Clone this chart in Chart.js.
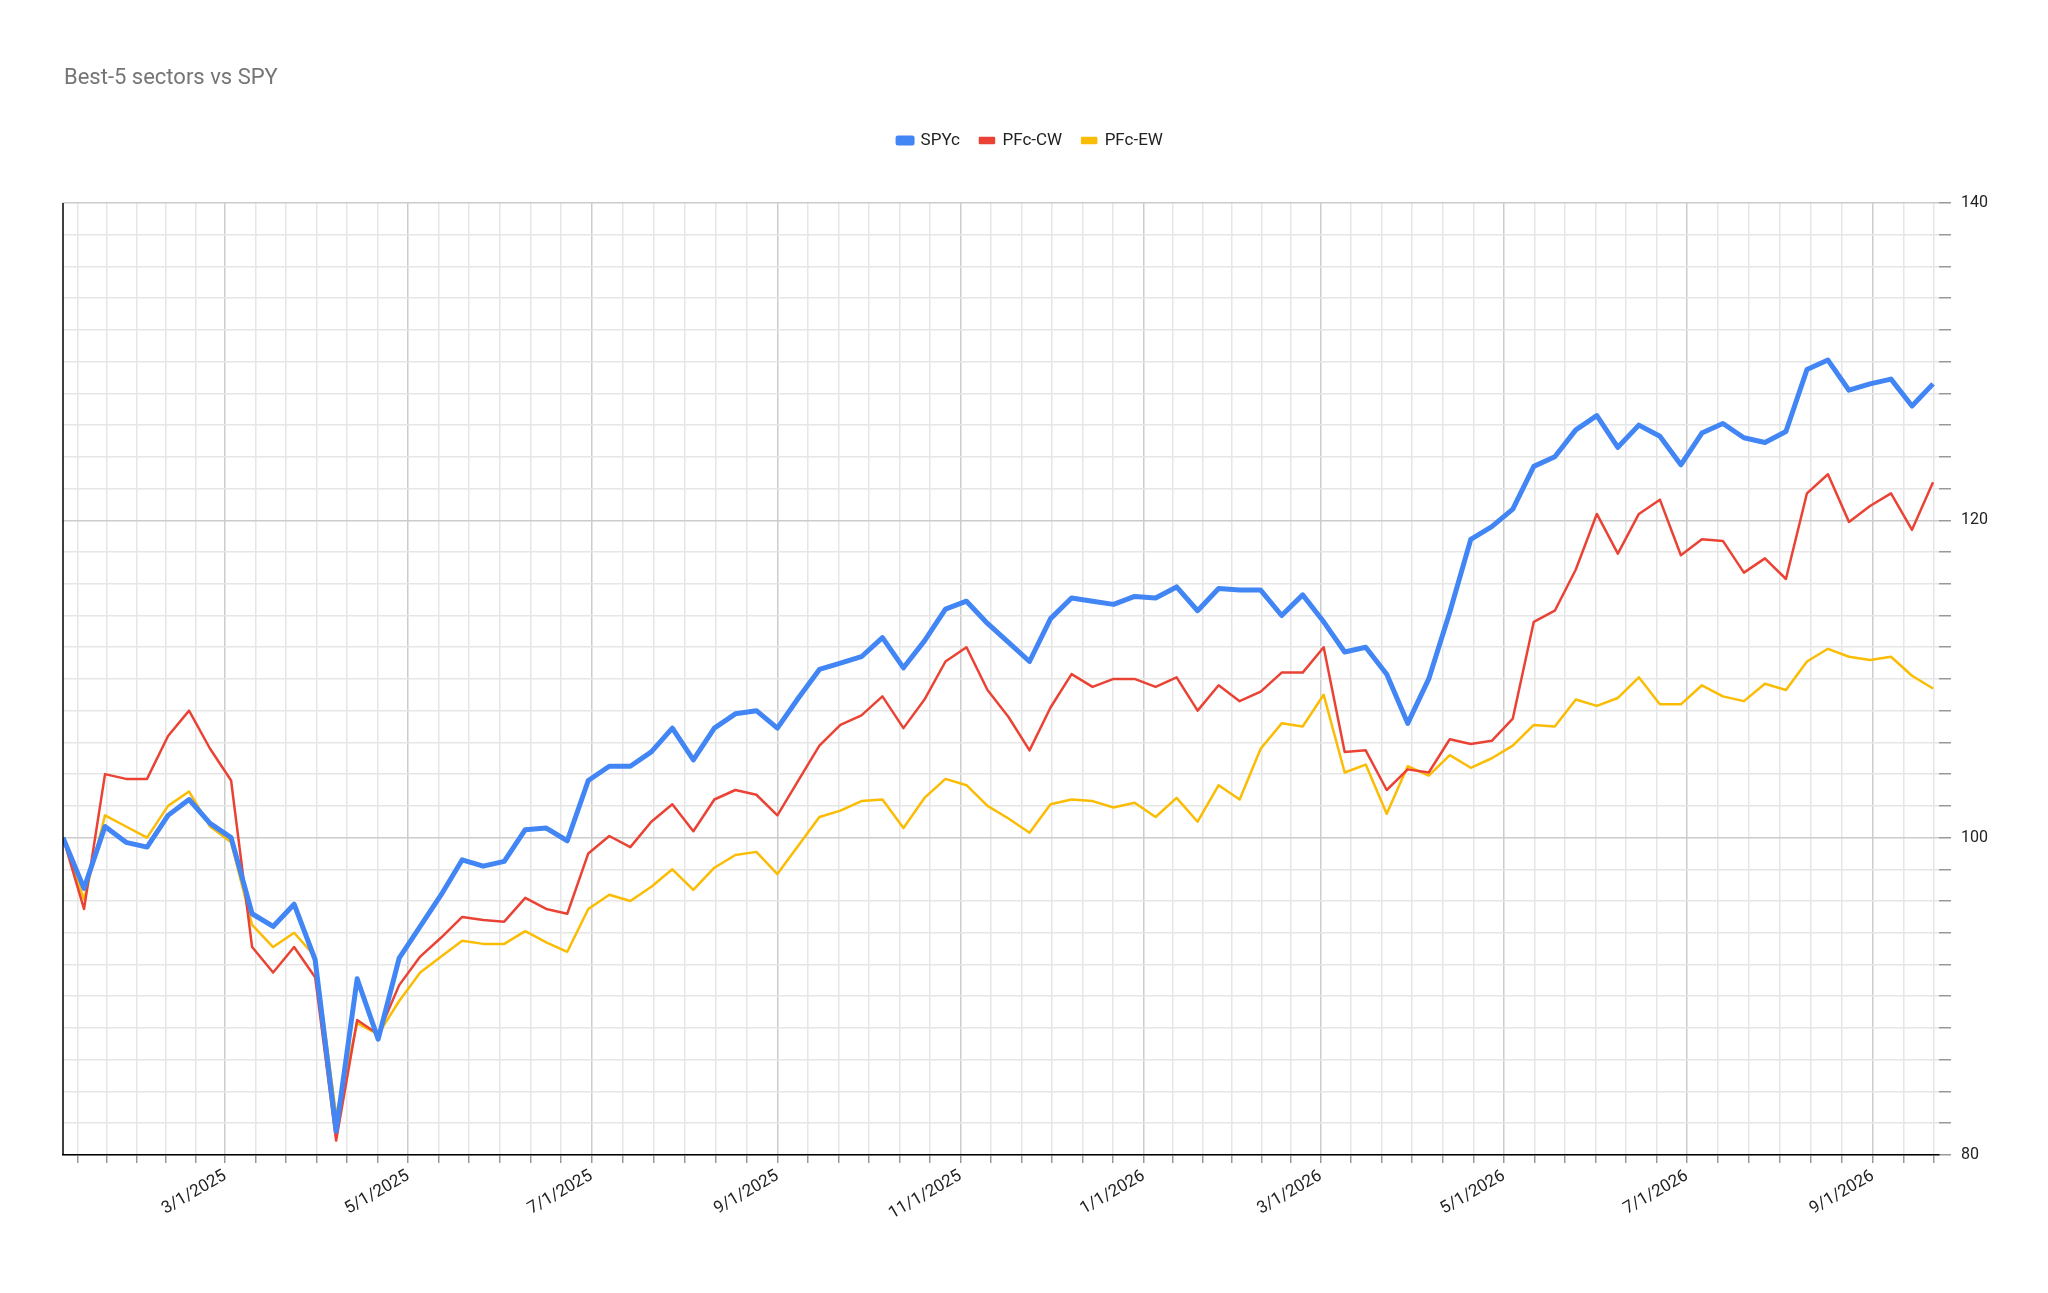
<!DOCTYPE html>
<html>
<head>
<meta charset="utf-8">
<script src="https://cdn.jsdelivr.net/npm/chart.js@4/dist/chart.umd.min.js"></script>
<style>
  html, body { margin: 0; padding: 0; background: #fff; }
  #wrap { width: 2048px; height: 1293px; position: relative; }
</style>
</head>
<body>
<div id="wrap"><canvas id="chart"></canvas></div>
<script>
// Weekly closes, normalised to 100 on the first week
const startDate = '2025-01-06';
const spyc = [100, 96.8, 100.7, 99.7, 99.4, 101.4, 102.4, 100.9, 100, 95.2, 94.4, 95.8, 92.3, 81.5, 91.1, 87.3, 92.4, 94.4, 96.4, 98.6, 98.2, 98.5, 100.5, 100.6,
  99.8, 103.6, 104.5, 104.5, 105.4, 106.9, 104.9, 106.9, 107.8, 108, 106.9, 108.8, 110.6, 111, 111.4, 112.6, 110.7, 112.4, 114.4, 114.9,
  113.5, 112.3, 111.1, 113.8, 115.1, 114.9, 114.7, 115.2, 115.1, 115.8, 114.3, 115.7, 115.6, 115.6, 114, 115.3, 113.6, 111.7, 112, 110.3, 107.2, 110, 114.2,
  118.8, 119.6, 120.7, 123.4, 124, 125.7, 126.6, 124.6, 126, 125.3, 123.5, 125.5, 126.1, 125.2, 124.9, 125.6, 129.5, 130.1, 128.2, 128.6, 128.9, 127.2, 128.6];
const pfcCW = [100, 95.5, 104, 103.7, 103.7, 106.4, 108, 105.6, 103.6, 93.1, 91.5, 93.1, 91.2, 80.9, 88.5, 87.6, 90.7, 92.5, 93.7, 95, 94.8, 94.7, 96.2, 95.5,
  95.2, 99, 100.1, 99.4, 101, 102.1, 100.4, 102.4, 103, 102.7, 101.4, 103.6, 105.8, 107.1, 107.7, 108.9, 106.9, 108.7, 111.1, 112,
  109.3, 107.6, 105.5, 108.2, 110.3, 109.5, 110, 110, 109.5, 110.1, 108, 109.6, 108.6, 109.2, 110.4, 110.4, 112, 105.4, 105.5, 103, 104.3, 104.1, 106.2,
  105.9, 106.1, 107.5, 113.6, 114.3, 116.9, 120.4, 117.9, 120.4, 121.3, 117.8, 118.8, 118.7, 116.7, 117.6, 116.3, 121.7, 122.9, 119.9, 120.9, 121.7, 119.4, 122.4];
const pfcEW = [100, 96.1, 101.4, 100.7, 100, 102, 102.9, 100.7, 99.7, 94.5, 93.1, 94, 92.5, 82.5, 88.3, 87.6, 89.7, 91.5, 92.5, 93.5, 93.3, 93.3, 94.1, 93.4,
  92.8, 95.5, 96.4, 96, 96.9, 98, 96.7, 98.1, 98.9, 99.1, 97.7, 99.5, 101.3, 101.7, 102.3, 102.4, 100.6, 102.5, 103.7, 103.3,
  102, 101.2, 100.3, 102.1, 102.4, 102.3, 101.9, 102.2, 101.3, 102.5, 101, 103.3, 102.4, 105.6, 107.2, 107, 109, 104.1, 104.6, 101.5, 104.5, 103.9, 105.2,
  104.4, 105, 105.8, 107.1, 107, 108.7, 108.3, 108.8, 110.1, 108.4, 108.4, 109.6, 108.9, 108.6, 109.7, 109.3, 111.1, 111.9, 111.4, 111.2, 111.4, 110.2, 109.4];
const monthTicks = ['2025-01-01', '2025-03-01', '2025-05-01', '2025-07-01', '2025-09-01', '2025-11-01',
  '2026-01-01', '2026-03-01', '2026-05-01', '2026-07-01', '2026-09-01', '2026-11-01'];
const yTickLabels = [80, 100, 120, 140];

const DAY = 86400000;
const t0 = Date.parse(startDate);
const dayOf = s => Math.round((Date.parse(s) - t0) / DAY);
const lastDay = (spyc.length - 1) * 7;

function toPoints(arr) {
  return arr.map((v, i) => ({ x: i * 7, y: v }));
}

function fmtDate(s) {
  const [y, m, d] = s.split('-').map(Number);
  return m + '/' + d + '/' + y;
}

// major ticks at each 2-month start, 5 minor ticks between
function buildXTicks(scale) {
  const ticks = [];
  for (let i = 0; i < monthTicks.length - 1; i++) {
    const a = dayOf(monthTicks[i]), b = dayOf(monthTicks[i + 1]);
    for (let j = 0; j < 6; j++) {
      const v = a + (b - a) * j / 6;
      if (v >= scale.min && v <= scale.max) {
        ticks.push({ value: v, major: j === 0, label: j === 0 ? fmtDate(monthTicks[i]) : '' });
      }
    }
  }
  scale.ticks = ticks;
}

// title text + black left axis line
const decorPlugin = {
  id: 'sheetDecor',
  afterDraw(chart) {
    const ctx = chart.ctx;
    const area = chart.chartArea;
    ctx.save();
    ctx.font = '22px Roboto';
    ctx.fillStyle = '#757575';
    ctx.textBaseline = 'middle';
    ctx.fillText('Best-5 sectors vs SPY', 64, 78);
    ctx.strokeStyle = '#000';
    ctx.lineWidth = 1.5;
    ctx.beginPath();
    ctx.moveTo(area.left, area.top);
    ctx.lineTo(area.left, area.bottom);
    ctx.stroke();
    ctx.restore();
  }
};

// extra gap between legend and plot
const legendGap = {
  id: 'legendGap',
  beforeInit(chart) {
    const origFit = chart.legend.fit;
    chart.legend.fit = function () {
      origFit.bind(chart.legend)();
      this.height += 44;
    };
  }
};

const lineDs = (label, data, color, width) => ({
  label, data: toPoints(data), borderColor: color, backgroundColor: color,
  borderWidth: width, pointRadius: 0, tension: 0, borderJoinStyle: 'round'
});

Chart.defaults.font.family = 'Roboto';
Chart.defaults.color = '#444';

new Chart(document.getElementById('chart'), {
  type: 'line',
  data: {
    datasets: [
      lineDs('SPYc', spyc, '#4285f4', 5),
      lineDs('PFc-CW', pfcCW, '#ea4335', 2.5),
      lineDs('PFc-EW', pfcEW, '#fbbc04', 2.5)
    ]
  },
  plugins: [decorPlugin, legendGap],
  options: {
    responsive: true,
    maintainAspectRatio: false,
    animation: false,
    layout: { padding: { left: 63, right: 50, top: 112, bottom: 66 } },
    plugins: {
      tooltip: { enabled: false },
      legend: {
        position: 'top',
        labels: { boxWidth: 14, boxHeight: 5, padding: 20, font: { size: 17 }, color: '#222' }
      }
    },
    scales: {
      x: {
        type: 'linear',
        min: 0,
        max: lastDay + 2,
        afterBuildTicks: buildXTicks,
        grid: {
          color: c => c.tick && c.tick.major ? '#cccccc' : '#e6e6e6',
          lineWidth: 1.5,
          tickLength: 8,
          tickColor: '#999'
        },
        border: { color: '#000', width: 1.5 },
        ticks: {
          autoSkip: false,
          minRotation: 30, maxRotation: 30,
          font: { size: 17 }, color: '#222',
          callback: (v, i, ticks) => ticks[i].label
        }
      },
      y: {
        position: 'right',
        min: 80, max: 140,
        afterBuildTicks: scale => {
          const ticks = [];
          for (let v = 80; v <= 140; v += 2) ticks.push({ value: v, major: yTickLabels.includes(v) });
          scale.ticks = ticks;
        },
        grid: {
          color: c => c.tick && c.tick.major ? '#cccccc' : '#e6e6e6',
          lineWidth: 1.5,
          tickLength: 12,
          tickColor: '#999'
        },
        border: { display: false },
        ticks: {
          autoSkip: false,
          font: { size: 16 }, color: '#222', padding: 10,
          callback: v => yTickLabels.includes(v) ? String(v) : ''
        }
      }
    }
  }
});
</script>
</body>
</html>
